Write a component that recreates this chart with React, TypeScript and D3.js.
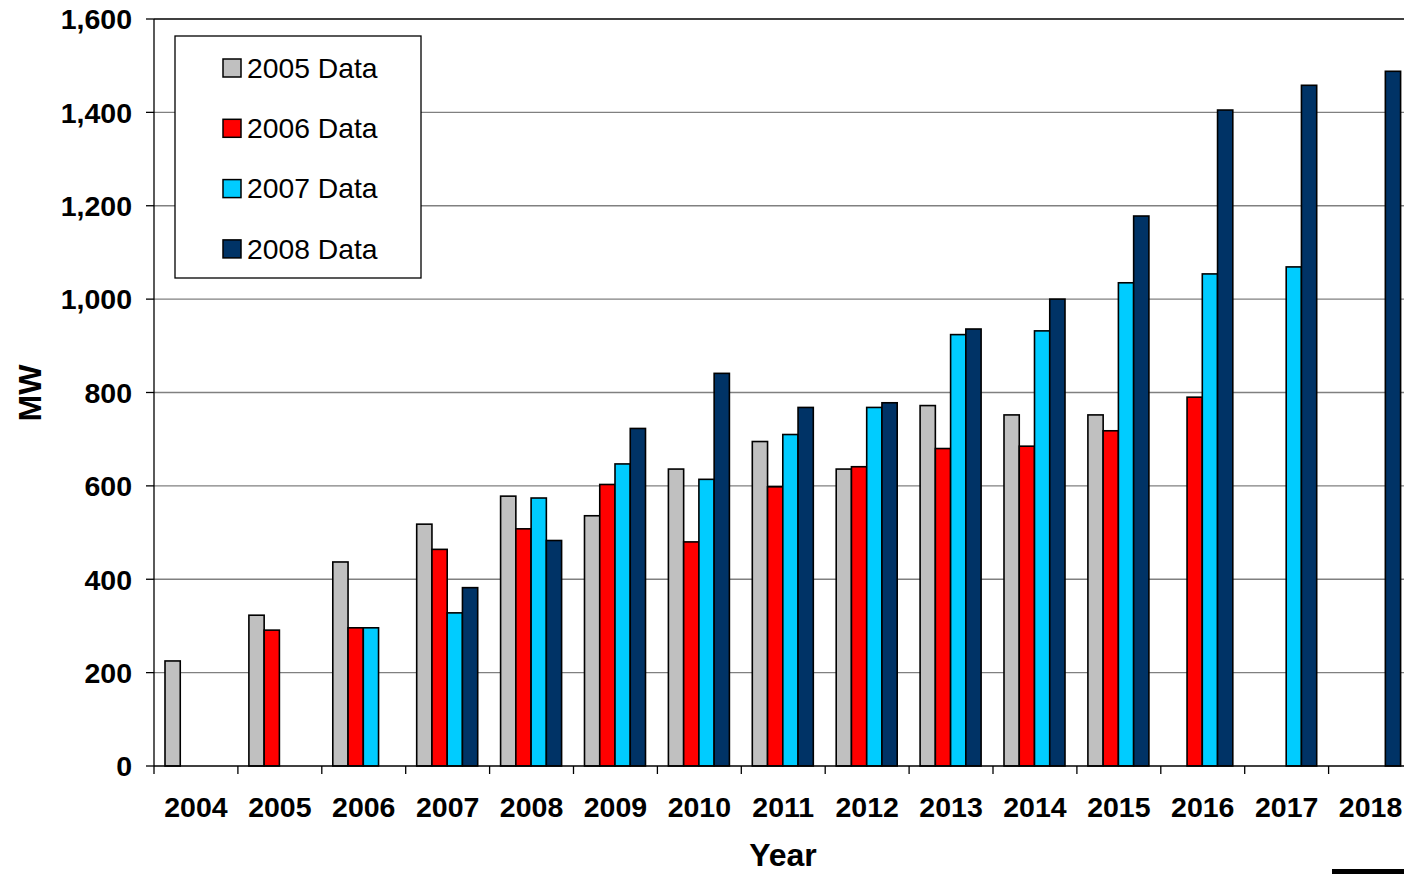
import React from "react";
import * as d3 from "d3";

const years = ["2004","2005","2006","2007","2008","2009","2010","2011","2012","2013","2014","2015","2016","2017","2018"];
const seriesNames = ["2005 Data","2006 Data","2007 Data","2008 Data"];
const seriesColors = ["#c0c0c0","#ff0000","#00ccff","#003366"];
const data2005: (number|null)[] = [225,323,437,518,578,536,636,695,636,772,752,752,null,null,null];
const data2006: (number|null)[] = [null,291,296,464,508,603,480,598,641,680,685,718,790,null,null];
const data2007: (number|null)[] = [null,null,296,328,574,647,614,710,768,924,932,1035,1054,1069,null];
const data2008: (number|null)[] = [null,null,null,382,483,723,841,768,778,936,1000,1178,1405,1458,1488];
const yTicks = [0,200,400,600,800,1000,1200,1400,1600];

const W = 1404, H = 874;
const left = 154, top = 19, bottom = 766;
const band = 83.9;
const right = left + band * years.length;

export default function App() {
  const x = d3.scaleBand<string>().domain(years).range([left, right]).padding(0);
  const inner = d3.scaleBand<string>().domain(seriesNames).range([11, 72]).padding(0);
  const y = d3.scaleLinear().domain([0, 1600]).range([bottom, top]);
  const allSeries = [data2005, data2006, data2007, data2008];
  const fmt = d3.format(",");
  const font = "Liberation Sans, Arial, sans-serif";

  return (
    <svg width={W} height={H} style={{ position: "fixed", left: 0, top: 0, background: "#fff" }} fontFamily={font}>
      <rect x={0} y={0} width={W} height={H} fill="#fff" />
      {yTicks.slice(1, -1).map(t => (
        <line key={t} x1={left} x2={W} y1={y(t)} y2={y(t)} stroke="#808080" strokeWidth={1.3} />
      ))}
      <line x1={left} x2={W} y1={y(1600)} y2={y(1600)} stroke="#000" strokeWidth={1.5} />
      {allSeries.map((s, si) =>
        s.map((v, i) => v == null ? null : (
          <rect key={si + "-" + i}
            x={(x(years[i]) as number) + (inner(seriesNames[si]) as number)}
            y={y(v)}
            width={inner.bandwidth()}
            height={y(0) - y(v)}
            fill={seriesColors[si]} stroke="#000" strokeWidth={1.6} />
        ))
      )}
      <line x1={left} x2={W} y1={bottom} y2={bottom} stroke="#000" strokeWidth={1.3} />
      <line x1={left} x2={left} y1={top} y2={bottom + 8} stroke="#000" strokeWidth={1.3} />
      {yTicks.map(t => (
        <g key={t}>
          <line x1={left - 8} x2={left} y1={y(t)} y2={y(t)} stroke="#000" strokeWidth={1.3} />
          <text x={132} y={y(t)} dy="0.36em" textAnchor="end" fontSize={28.5} fontWeight="bold">{fmt(t)}</text>
        </g>
      ))}
      {years.map((yr, i) => (
        <g key={yr}>
          <line x1={left + band * (i + 1)} x2={left + band * (i + 1)} y1={bottom} y2={bottom + 8} stroke="#000" strokeWidth={1.3} />
          <text x={(x(yr) as number) + band / 2} y={817} textAnchor="middle" fontSize={28.5} fontWeight="bold">{yr}</text>
        </g>
      ))}
      <text x={783} y={866} textAnchor="middle" fontSize={32} fontWeight="bold">Year</text>
      <text transform={`translate(41,393) rotate(-90)`} textAnchor="middle" fontSize={32} fontWeight="bold">MW</text>
      <rect x={175} y={36} width={246} height={242} fill="#fff" stroke="#000" strokeWidth={1.3} />
      {seriesNames.map((n, i) => (
        <g key={n}>
          <rect x={223} y={59 + i * 60.3} width={18} height={18} fill={seriesColors[i]} stroke="#000" strokeWidth={1.5} />
          <text x={247} y={68 + i * 60.3} dy="0.34em" fontSize={28.3}>{n}</text>
        </g>
      ))}
      <rect x={1332} y={869} width={72} height={5} fill="#000" />
    </svg>
  );
}
